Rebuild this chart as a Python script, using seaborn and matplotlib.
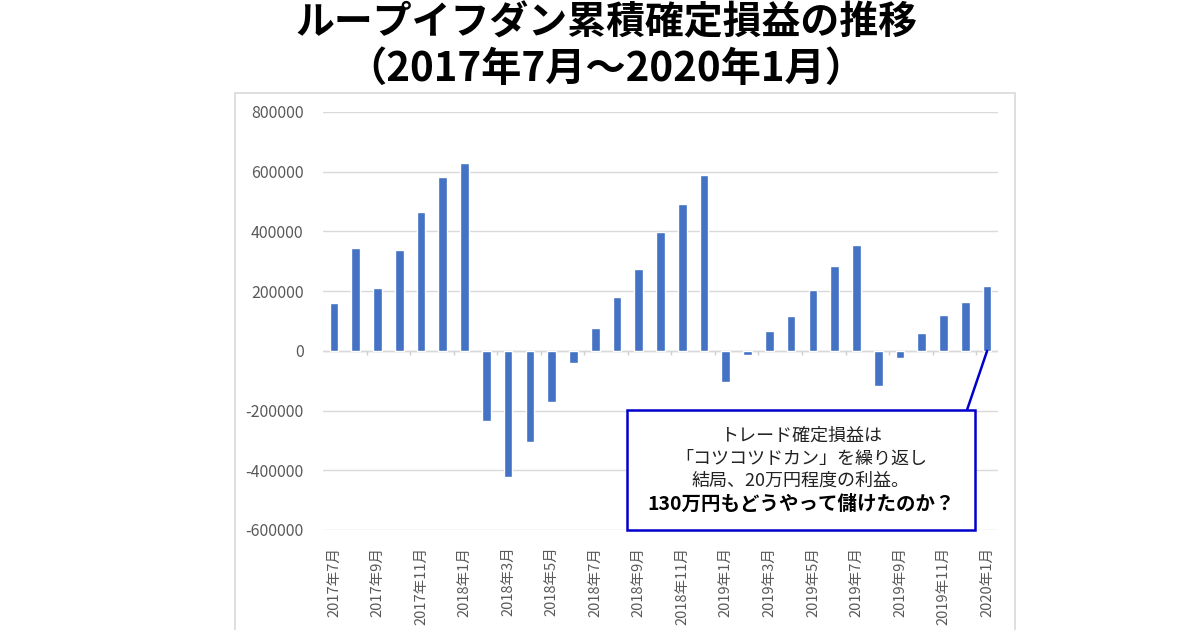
import numpy as np
import pandas as pd
import seaborn as sns
import matplotlib.pyplot as plt
from matplotlib.patches import Rectangle

# monthly cumulative realised P/L (yen), 2017/7 - 2020/1
months = [f"{y}年{m}月" for y, m in
          [(2017, m) for m in range(7, 13)] + [(2018, m) for m in range(1, 13)]
          + [(2019, m) for m in range(1, 13)] + [(2020, 1)]]
values = [160000, 346000, 210000, 338000, 466000, 581000, 628000,
          -235000, -423000, -304000, -170000, -41000, 78000, 182000,
          274000, 397000, 491000, 588000, -103000, -15000, 67000,
          117000, 203000, 284000, 356000, -119000, -25000, 60000,
          119000, 162000, 218000]
yticks = [-600000, -400000, -200000, 0, 200000, 400000, 600000, 800000]

title_1 = "ループイフダン累積確定損益の推移"
title_2 = "（2017年7月～2020年1月）"
note_lines = ["トレード確定損益は",
              "「コツコツドカン」を繰り返し",
              "結局、20万円程度の利益。"]
note_bold = "130万円もどうやって儲けたのか？"

df = pd.DataFrame({"month": months, "pl": values})

sns.set_style("white")
plt.rcParams["font.family"] = ["Noto Sans CJK JP", "DejaVu Sans"]

W, H = 1200, 630
fig = plt.figure(figsize=(12, 6.3), dpi=100)

# outer chart frame (Excel chart area)
fig.patches.append(Rectangle((235 / W, -0.01), 780 / W, 1 - 93 / H + 0.01,
                             transform=fig.transFigure, fill=False,
                             edgecolor="#d9d9d9", lw=1.2))

ax = fig.add_axes([323 / W, 1 - 530 / H, 675 / W, 418 / H])
sns.barplot(data=df, x="month", y="pl", color="#4472C4", saturation=1,
            width=0.4, ax=ax)

ax.set_ylim(-600000, 800000)
ax.set_xlim(-0.5, len(months) - 0.5)
ax.set_yticks(yticks)
ax.set_yticklabels([str(v) for v in yticks])
ax.yaxis.grid(True, color="#d9d9d9", lw=1)
ax.set_axisbelow(True)
for s in ax.spines.values():
    s.set_visible(False)

ax.set_xticks(range(0, len(months), 2))
ax.set_xticklabels(months[::2], rotation=90)
ax.set_xlabel("")
ax.set_ylabel("")
ax.tick_params(axis="y", length=0, pad=14, labelsize=11.5, colors="#595959")
ax.tick_params(axis="x", length=0, pad=12, labelsize=10.5, colors="#595959")

# zero axis line with small category ticks
ax.axhline(0, color="#d0d0d0", lw=1, zorder=0.5)
ax.vlines(np.arange(1.5, len(months), 2), -14000, 0, color="#d0d0d0", lw=1)

# title
fig.text(0.505, 1 - 23 / H, title_1, ha="center", va="center",
         fontsize=28, fontweight="bold", color="black")
fig.text(0.505, 1 - 69 / H, title_2, ha="center", va="center",
         fontsize=29, fontweight="bold", color="black")

# note box with leader line to the last bar
blue = "#0000cc"
fig.patches.append(Rectangle((627 / W, 1 - 530 / H), 348 / W, 120 / H,
                             transform=fig.transFigure, facecolor="white",
                             edgecolor=blue, lw=1.8, zorder=5))
ax.annotate("", xy=(len(months) - 1, 0), xycoords="data",
            xytext=(967 / W, 1 - 410 / H), textcoords="figure fraction",
            arrowprops=dict(arrowstyle="-", color=blue, lw=1.8,
                            shrinkA=0, shrinkB=0))
for i, line in enumerate(note_lines):
    fig.text(801 / W, 1 - (436 + 22.5 * i) / H, line, ha="center",
             va="center", fontsize=13, color="#222222", zorder=6)
fig.text(801 / W, 1 - 504 / H, note_bold, ha="center", va="center",
         fontsize=14, fontweight="bold", color="black", zorder=6)

fig.savefig("out.png", dpi=100)
